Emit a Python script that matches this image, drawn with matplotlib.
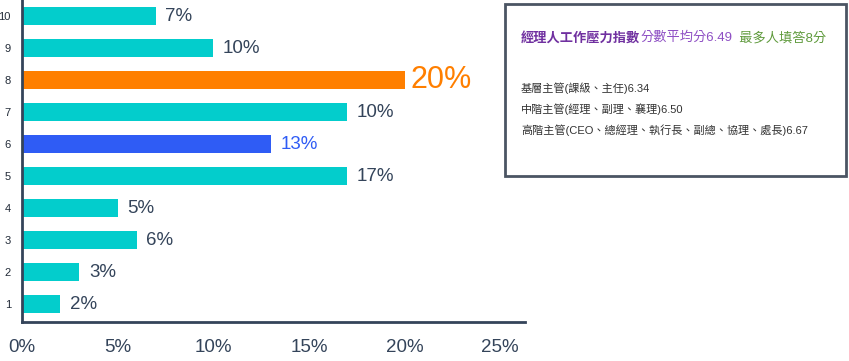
import matplotlib
matplotlib.use("Agg")
import matplotlib.pyplot as plt
from matplotlib.patches import Rectangle

plt.rcParams["font.family"] = ["Liberation Sans", "Noto Sans CJK TC", "DejaVu Sans"]

# data
scores = ["1", "2", "3", "4", "5", "6", "7", "8", "9", "10"]
values = [2, 3, 6, 5, 17, 13, 17, 20, 10, 7]
labels = ["2%", "3%", "6%", "5%", "17%", "13%", "10%", "20%", "10%", "7%"]
xticks = [0, 5, 10, 15, 20, 25]

teal = "#03cdcc"
orange = "#ff7f00"
blue = "#2f5cf5"
dark = "#34445a"
colors = [teal] * 10
colors[7] = orange
colors[5] = blue

fig = plt.figure(figsize=(8.49, 3.61), dpi=100)
ax = fig.add_axes([22 / 849, 39 / 361, 503 / 849, 322 / 361])

ypos = list(range(1, 11))
ax.barh(ypos, values, height=0.55, color=colors, edgecolor="none")

for y, v, lab in zip(ypos, values, labels):
    if y == 8:
        ax.text(v + 0.3, y, lab, va="center", ha="left", fontsize=22, color=orange)
    elif y == 6:
        ax.text(v + 0.5, y, lab, va="center", ha="left", fontsize=13.5, color=blue)
    else:
        ax.text(v + 0.5, y, lab, va="center", ha="left", fontsize=13.5, color=dark)

ax.set_xlim(0, 26.3)
ax.set_ylim(0.44, 10.5)
ax.set_yticks(ypos)
ax.set_yticklabels(scores, fontsize=8, color="#222b38")
ax.set_xticks(xticks)
ax.set_xticklabels([f"{t}%" for t in xticks], fontsize=13.5, color=dark)
ax.tick_params(axis="both", length=0)
ax.tick_params(axis="x", pad=12)
ax.tick_params(axis="y", pad=8)
for s in ["top", "right"]:
    ax.spines[s].set_visible(False)
for s in ["left", "bottom"]:
    ax.spines[s].set_color(dark)
    ax.spines[s].set_linewidth(2)

# text box
fig.patches.append(Rectangle((505 / 849, (361 - 176) / 361), 341 / 849, 172 / 361,
                             transform=fig.transFigure, fill=False,
                             edgecolor="#4b5563", linewidth=2))

renderer = fig.canvas.get_renderer()
parts = [("經理人工作壓力指數", "#7030a0", "bold"),
         ("分數平均分6.49", "#8e4fc4", "normal"),
         ("  最多人填答8分", "#5f9a3c", "normal")]
x0 = 521
for txt, col, w in parts:
    t = fig.text(x0 / 849, 1 - 38 / 361, txt, color=col, fontweight=w,
                 fontsize=9.5, va="center", ha="left")
    bb = t.get_window_extent(renderer)
    x0 += bb.width

lines = ["基層主管(課級、主任)6.34",
         "中階主管(經理、副理、襄理)6.50",
         "高階主管(CEO、總經理、執行長、副總、協理、處長)6.67"]
for i, line in enumerate(lines):
    fig.text(521 / 849, 1 - (88 + 21 * i) / 361, line, color="#333333",
             fontsize=8, va="center", ha="left")

fig.savefig("out.png", dpi=100)
